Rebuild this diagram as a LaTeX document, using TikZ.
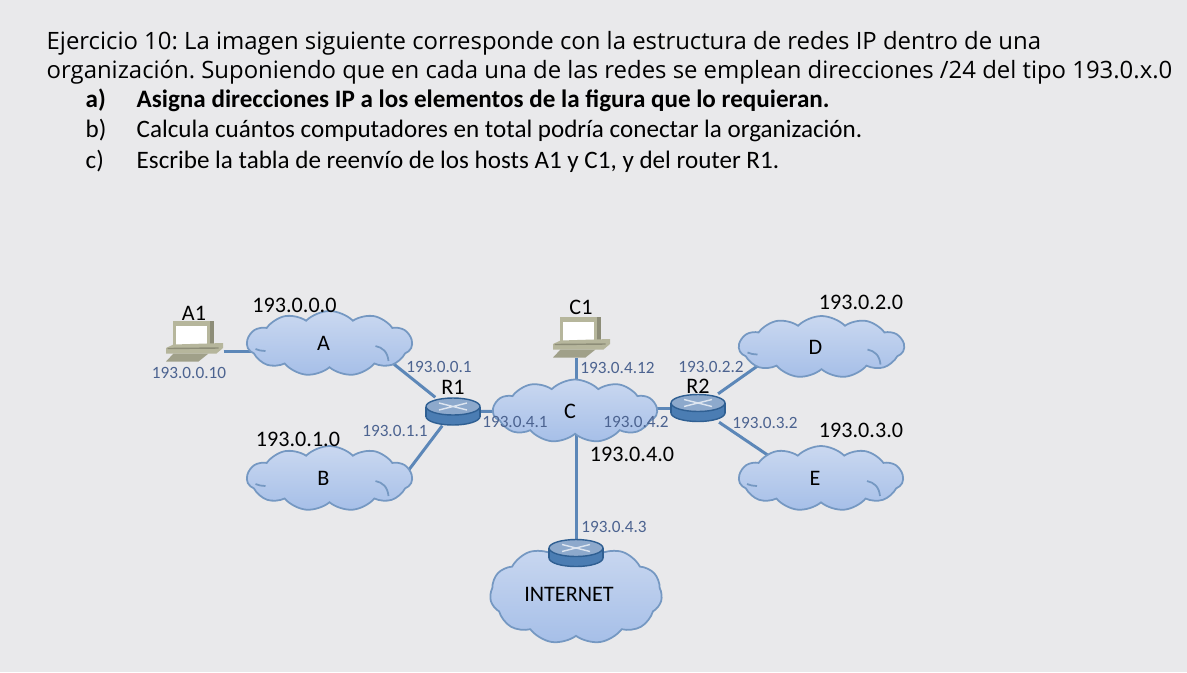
\documentclass[tikz,border=0pt]{standalone}
\usepackage{fontspec}
\setmainfont{Carlito}
\newfontfamily\headfont{Open Sans}
\usetikzlibrary{shapes.symbols,backgrounds}
\definecolor{pagegray}{HTML}{E9E9EB}
\definecolor{linkblue}{HTML}{5C87B8}
\definecolor{addrblue}{HTML}{4C6390}
\definecolor{cloudtop}{HTML}{CAD8F0}
\definecolor{cloudlow}{HTML}{A6BFE8}
\definecolor{cloudline}{HTML}{7598C2}
\definecolor{routerbody}{HTML}{4B7DB3}
\definecolor{routertop}{HTML}{8DA9CC}
\definecolor{routerline}{HTML}{2F5F92}
\definecolor{pcbody}{HTML}{B6B69C}
\definecolor{pcdark}{HTML}{8D8D78}

\tikzset{
    netcloud/.style={
        cloud,
        cloud puffs=11,
        cloud puff arc=90,
        aspect=2.6,
        inner sep=0pt,
        draw=cloudline,
        line width=0.5pt,
        top color=cloudtop,
        bottom color=cloudlow,
        font=\fontsize{6.3}{7}\selectfont
    },
    routerbox/.style={minimum width=0.54cm, minimum height=0.27cm, inner sep=0pt},
    pcbox/.style={minimum width=0.57cm, minimum height=0.41cm, inner sep=0pt},
    link/.style={draw=linkblue, line width=0.85pt},
    linkin/.style={link, shorten >=-0.15cm},
    addr/.style={font=\fontsize{4.9}{6}\selectfont, text=addrblue, inner sep=0pt},
    netname/.style={font=\fontsize{6.3}{7}\selectfont, inner sep=0pt},
    headline/.style={font=\headfont\fontsize{6.8}{8}\selectfont, anchor=base west, inner sep=0pt},
    itemline/.style={font=\fontsize{7.14}{8}\selectfont, anchor=base west, inner sep=0pt},
    itembold/.style={itemline, font=\bfseries\fontsize{7.14}{8}\selectfont}
}

% computer: #1 name, #2 centre
\newcommand{\laptop}[2]{
    \node[pcbox] (#1) at (#2) {};
    \begin{scope}[shift={(#2)}]
        \fill[pcbody] (-0.22,-0.205) rectangle (0.195,0.07);
        \fill[pcdark] (0.15,-0.205) rectangle (0.195,0.05);
        \fill[white] (-0.19,-0.15) rectangle (0.125,0.035);
        \fill[pcbody] (-0.285,0.07) -- (-0.21,0.035) -- (0.285,0.02) -- (0.285,0.07) -- (0.22,0.125) -- (-0.285,0.125) -- cycle;
        \draw[pcdark, line width=0.4pt] (-0.27,0.075) -- (0.24,0.07);
        \fill[pcbody!88!black] (-0.285,0.205) -- (-0.21,0.125) -- (0.14,0.125) -- (0.04,0.205) -- cycle;
    \end{scope}
}

% router: #1 name, #2 centre
\newcommand{\router}[2]{
    \node[routerbox] (#1) at (#2) {};
    \begin{scope}[shift={(#2)}, line width=0.4pt]
        \filldraw[fill=routerbody, draw=routerline] (0,0.05) ellipse (0.27 and 0.085);
        \fill[routerbody] (-0.27,-0.05) rectangle (0.27,0.05);
        \draw[routerline] (-0.27,-0.05) -- (-0.27,0.05) (0.27,-0.05) -- (0.27,0.05);
        \filldraw[fill=routertop, draw=routerline] (0,-0.05) ellipse (0.27 and 0.085);
        \draw[white!70!routertop] (-0.14,-0.085) -- (0.14,-0.015) (-0.14,-0.015) -- (0.14,-0.085);
    \end{scope}
}

% inner strokes of a cloud: #1 node name
\newcommand{\cloudfolds}[1]{
    \begin{scope}[shift={(#1.center)}, draw=cloudline, line width=0.5pt]
        \draw (-0.74,0.055) .. controls (-0.70,0.07) .. (-0.64,0.075);
        \draw (0.46,0.025) .. controls (0.53,0.04) and (0.58,0.08) .. (0.59,0.175);
    \end{scope}
}

\begin{document}
\frenchspacing
\begin{tikzpicture}[x=1cm, y=-1cm]
\useasboundingbox (0,0) rectangle (11.87,6.72);

% statement
\node[headline] (title) at (0.46,0.495) {Ejercicio 10: La imagen siguiente corresponde con la estructura de redes IP dentro de una};
\node[headline] (titleb) at (0.46,0.78) {organización. Suponiendo que en cada una de las redes se emplean direcciones /24 del tipo 193.0.x.0};
\node[itembold] (itema) at (0.85,1.07) {a)};
\node[itembold] (texta) at (1.36,1.07) {Asigna direcciones IP a los elementos de la figura que lo requieran.};
\node[itemline] (itemb) at (0.85,1.37) {b)};
\node[itemline] (textb) at (1.36,1.37) {Calcula cuántos computadores en total podría conectar la organización.};
\node[itemline] (itemc) at (0.85,1.68) {c)};
\node[itemline] (textc) at (1.36,1.68) {Escribe la tabla de reenvío de los hosts A1 y C1, y del router R1.};

% clouds
\node[netcloud, minimum width=1.65cm, minimum height=0.65cm] (A) at (3.295,3.435) {A\kern0.12cm};
\node[netcloud, minimum width=1.65cm, minimum height=0.65cm] (B) at (3.295,4.785) {B\kern0.12cm};
\node[netcloud, minimum width=1.64cm, minimum height=0.63cm] (C) at (5.75,4.11) {C\kern0.1cm};
\node[netcloud, minimum width=1.65cm, minimum height=0.62cm] (D) at (8.215,3.47) {D\kern0.12cm};
\node[netcloud, minimum width=1.64cm, minimum height=0.65cm] (E) at (8.21,4.785) {E\kern0.12cm};
\node[netcloud, minimum width=1.72cm, minimum height=1cm] (NET) at (5.76,5.94) {INTERNET\kern0.14cm};
\foreach \cloudname in {A,B,D,E} {
    \cloudfolds{\cloudname}
}

% devices
\laptop{A1}{1.945,3.41}
\laptop{C1}{5.815,3.37}
\router{R1}{4.53,4.115}
\router{R2}{6.98,4.08}
\router{R3}{5.76,5.53}

% links
\begin{scope}[on background layer]
\fill[pagegray] (0,0) rectangle (11.87,6.72);
\draw[link] (A1.east |- 0,3.51) -- (A.center |- 0,3.51);
\draw[linkin] (R1) -- (A.-18);
\draw[linkin] (R1) -- (B.7);
\draw[link] (R1) -- (C);
\draw[link] (R3 |- C1.south) -- (R3 |- C);
\draw[link] (R3 |- C) -- (R3);
\draw[link] (R2) -- (R2 -| C);
\draw[linkin] (R2) -- (D.197);
\draw[linkin] (R2) -- (E.156);
\end{scope}

% names
\node[netname] (nameA1) at (1.94,3.13) {A1};
\node[netname] (nameC1) at (5.81,3.07) {C1};
\node[netname] (nameR1) at (4.53,3.87) {R1};
\node[netname] (nameR2) at (6.98,3.86) {R2};
\node[netname] (netA) at (2.945,3.05) {193.0.0.0};
\node[netname] (netB) at (2.98,4.39) {193.0.1.0};
\node[netname] (netC) at (6.32,4.54) {193.0.4.0};
\node[netname] (netD) at (8.61,3.02) {193.0.2.0};
\node[netname] (netE) at (8.61,4.30) {193.0.3.0};

% addresses
\node[addr] (ipA1) at (1.89,3.73) {193.0.0.10};
\node[addr] (ipA) at (4.39,3.67) {193.0.0.1};
\node[addr] (ipB) at (3.95,4.31) {193.0.1.1};
\node[addr] (ipCa) at (5.15,4.22) {193.0.4.1};
\node[addr] (ipCb) at (6.36,4.22) {193.0.4.2};
\node[addr] (ipCc) at (6.175,3.68) {193.0.4.12};
\node[addr] (ipCd) at (6.14,5.27) {193.0.4.3};
\node[addr] (ipD) at (7.11,3.67) {193.0.2.2};
\node[addr] (ipE) at (7.65,4.23) {193.0.3.2};
\end{tikzpicture}
\end{document}
